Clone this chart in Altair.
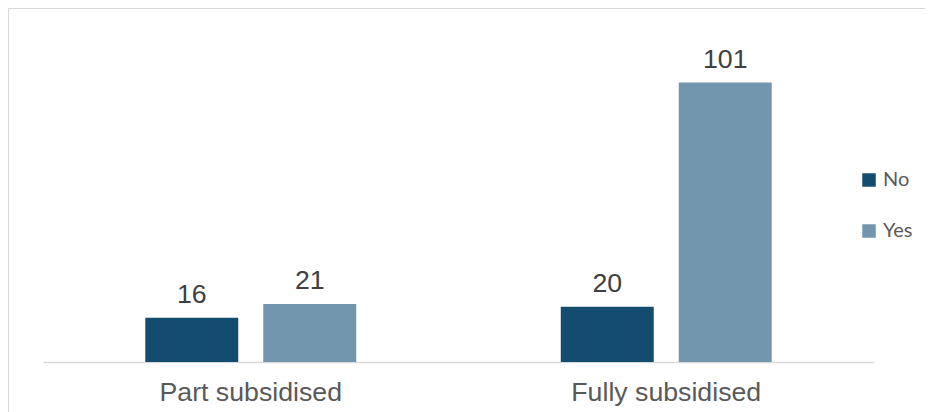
import altair as alt
import pandas as pd

categories = ["Part subsidised", "Fully subsidised"]
groups = ["No", "Yes"]
no_values = [16, 20]
yes_values = [21, 101]
colors = ["#134c6f", "#7196ae"]

rows = []
for i, c in enumerate(categories):
    rows.append({"category": c, "group": "No", "value": no_values[i]})
    rows.append({"category": c, "group": "Yes", "value": yes_values[i]})
df = pd.DataFrame(rows)

x_enc = alt.X(
    "category:N",
    sort=categories,
    scale=alt.Scale(paddingInner=0, paddingOuter=0),
    axis=alt.Axis(
        title=None,
        labelAngle=0,
        ticks=False,
        grid=False,
        domainColor="#d9d9d9",
        domainWidth=1.5,
        labelFont="Liberation Sans",
        labelFontSize=26.7,
        labelColor="#595959",
        labelPadding=17,
        labelLimit=400,
    ),
)
xoff_enc = alt.XOffset(
    "group:N", sort=groups, scale=alt.Scale(paddingInner=0.212, paddingOuter=0.867)
)
y_enc = alt.Y("value:Q", scale=alt.Scale(domain=[0, 120]), axis=None)

bars = alt.Chart(df).mark_bar().encode(
    x=x_enc,
    xOffset=xoff_enc,
    y=y_enc,
    color=alt.Color(
        "group:N",
        scale=alt.Scale(domain=groups, range=colors),
        legend=alt.Legend(
            title=None,
            orient="none",
            legendX=816,
            legendY=140,
            symbolType="square",
            symbolSize=182,
            symbolStrokeWidth=0,
            labelFont="Lato",
            labelFontSize=20,
            labelColor="#595959",
            labelOffset=4,
            rowPadding=31,
            padding=0,
        ),
    ),
)

labels = alt.Chart(df).mark_text(
    baseline="alphabetic",
    dy=-15,
    font="Liberation Sans",
    fontSize=26.7,
    color="#404040",
).encode(x=x_enc, xOffset=xoff_enc, y=y_enc, text="value:Q")

one = pd.DataFrame({"a": [0]})
border_top = alt.Chart(one).mark_rule(stroke="#d9d9d9", strokeWidth=1).encode(
    x=alt.value(-34.5), x2=alt.value(1000), y=alt.value(-21.5)
)
border_left = alt.Chart(one).mark_rule(stroke="#d9d9d9", strokeWidth=1).encode(
    x=alt.value(-34.5), y=alt.value(-21.5), y2=alt.value(500)
)

chart = (
    alt.layer(border_top, border_left, bars, labels)
    .properties(
        width=831,
        height=332,
        autosize=alt.AutoSizeParams(type="none"),
        padding={"left": 35, "top": 22, "right": 51, "bottom": 50},
        background="white",
    )
    .configure_view(strokeWidth=0)
)

chart.save("out.html", embed_options={"renderer": "svg", "actions": False})
